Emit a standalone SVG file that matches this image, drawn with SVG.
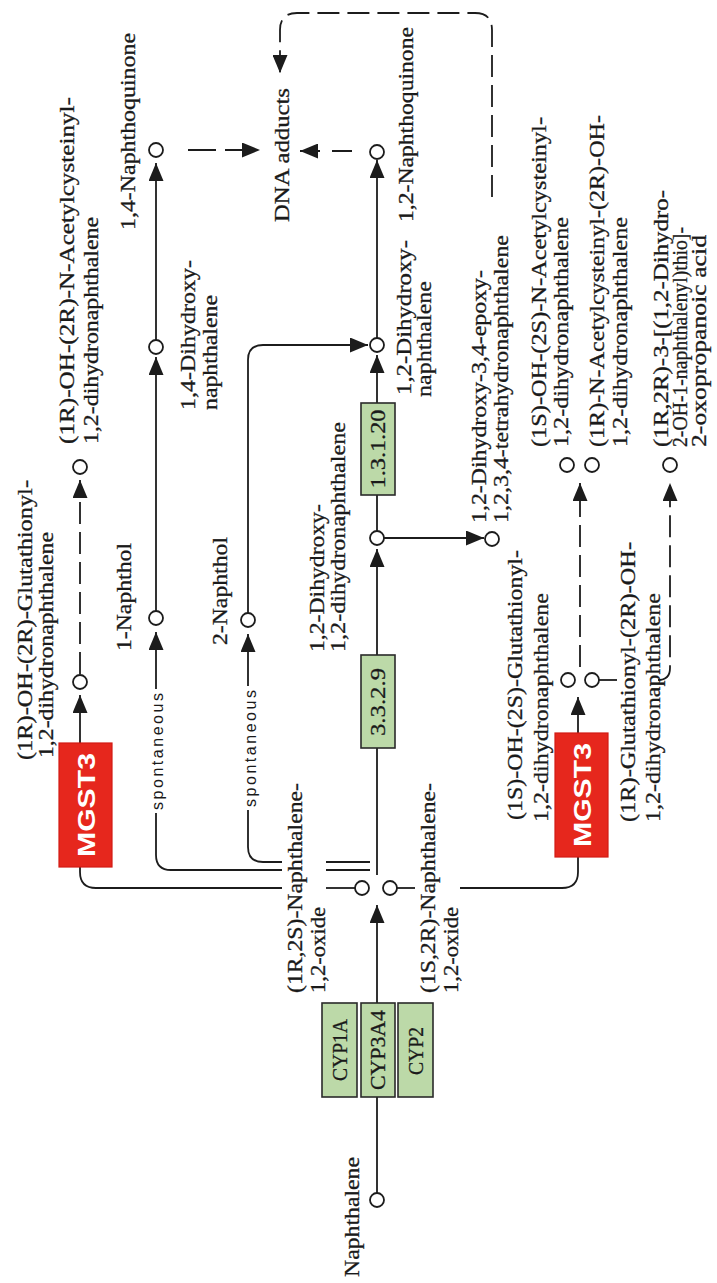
<svg xmlns="http://www.w3.org/2000/svg" width="717" height="1283" viewBox="0 0 717 1283">
<style>
  .ln{fill:none;stroke:#1c1c1c;stroke-width:1.8}
  .ds{stroke-dasharray:22 8}
  .cpd{fill:#fff;stroke:#1c1c1c;stroke-width:1.8}
  .enz{fill:#bcd9a8;stroke:#2a2a2a;stroke-width:1.6}
  .hit{fill:#e6271d;stroke:#d21c14;stroke-width:1.2}
  .t{font-family:"Liberation Serif","Times New Roman",serif;font-size:21px;fill:#1a1a1a;stroke:#1a1a1a;stroke-width:0.3;dominant-baseline:central}
  .et{text-anchor:middle}
  .ht{font-family:"Liberation Sans",Arial,sans-serif;font-weight:bold;font-size:24px;fill:#fff;text-anchor:middle;dominant-baseline:central}
  .sp{font-family:"Liberation Sans",Arial,sans-serif;font-size:16px;fill:#1a1a1a;dominant-baseline:central}
</style>
<defs>
  <marker id="ah" markerUnits="userSpaceOnUse" markerWidth="18" markerHeight="15" refX="18" refY="7.5" orient="auto">
    <path d="M0,0 L18,7.5 L0,15 z" fill="#1c1c1c"/>
  </marker>
</defs>
<rect width="717" height="1283" fill="#fff"/>

<!-- reactions -->
<g id="connectors">
  <!-- naphthalene to the epoxides -->
  <path class="ln" d="M377 1193 V905" marker-end="url(#ah)"/>
  <!-- epoxide hydrolase chain -->
  <path class="ln" d="M377 875 V549" marker-end="url(#ah)"/>
  <path class="ln" d="M377 531 V355" marker-end="url(#ah)"/>
  <path class="ln" d="M377 338 V160" marker-end="url(#ah)"/>
  <path class="ln" d="M384 538 H484" marker-end="url(#ah)"/>
  <!-- quinones to DNA adducts -->
  <path class="ln" d="M352 151 H300" style="stroke-dasharray:20 12" marker-end="url(#ah)"/>
  <path class="ln" d="M188 150 H260" style="stroke-dasharray:28 9" marker-end="url(#ah)"/>
  <path class="ln ds" d="M492 197 V30 Q492 13 475 13 H297 Q280 13 280 30 V73" marker-end="url(#ah)"/>
  <!-- 1-naphthol branch -->
  <path class="ln" d="M370 870 H326"/>
  <path class="ln" d="M282 870 H171 Q156 870 156 855 V632" marker-end="url(#ah)"/>
  <path class="ln" d="M156 611 V357" marker-end="url(#ah)"/>
  <path class="ln" d="M156 340 V163" marker-end="url(#ah)"/>
  <!-- 2-naphthol branch -->
  <path class="ln" d="M370 862 H326"/>
  <path class="ln" d="M282 862 H263 Q248 862 248 847 V634" marker-end="url(#ah)"/>
  <path class="ln" d="M248 613 V360 Q248 345 263 345 H368" marker-end="url(#ah)"/>
  <!-- glutathione conjugation, (1R,2S) epoxide -->
  <path class="ln" d="M355 888 H326"/>
  <path class="ln" d="M282 888 H96 Q80 888 80 872 V866"/>
  <path class="ln" d="M80 743 V695" marker-end="url(#ah)"/>
  <path class="ln ds" d="M80 674 V480" marker-end="url(#ah)"/>
  <!-- glutathione conjugation, (1S,2R) epoxide -->
  <path class="ln" d="M397 888 H415"/>
  <path class="ln" d="M460 888 H562 Q578 888 578 872 V857"/>
  <path class="ln" d="M578 733 V697" marker-end="url(#ah)"/>
  <path class="ln ds" d="M580 667 V483" marker-end="url(#ah)"/>
  <path class="ln" d="M599 680 H617"/>
  <path class="ln ds" d="M658 680 Q670 680 670 668 V483" marker-end="url(#ah)"/>
  <!-- non-enzymatic step labels -->
  <rect x="147" y="689" width="20" height="124" fill="#fff"/>
  <text class="sp" transform="translate(157,810) rotate(-90)" textLength="117" lengthAdjust="spacing">spontaneous</text>
  <rect x="240" y="686" width="20" height="124" fill="#fff"/>
  <text class="sp" transform="translate(250,807) rotate(-90)" textLength="117" lengthAdjust="spacing">spontaneous</text>
</g>

<!-- enzymes -->
<g id="cyp1a"><rect class="enz" x="322" y="1003" width="35" height="94"/><text class="t et" transform="translate(340,1050) rotate(-90)" textLength="62" lengthAdjust="spacingAndGlyphs">CYP1A</text></g>
<g id="cyp3a4"><rect class="enz" x="361" y="1003" width="34" height="94"/><text class="t et" transform="translate(378,1050) rotate(-90)" textLength="80" lengthAdjust="spacingAndGlyphs">CYP3A4</text></g>
<g id="cyp2"><rect class="enz" x="398" y="1003" width="35" height="94"/><text class="t et" transform="translate(416,1051) rotate(-90)" textLength="48" lengthAdjust="spacingAndGlyphs">CYP2</text></g>
<g id="ec3.3.2.9"><rect class="enz" x="361" y="655" width="34" height="93"/><text class="t et" transform="translate(378,702) rotate(-90)" textLength="68" lengthAdjust="spacingAndGlyphs">3.3.2.9</text></g>
<g id="ec1.3.1.20"><rect class="enz" x="361" y="403" width="34" height="92"/><text class="t et" transform="translate(378,449) rotate(-90)" textLength="79" lengthAdjust="spacingAndGlyphs">1.3.1.20</text></g>
<g id="mgst3-a"><rect class="hit" x="59" y="743" width="53" height="124"/><text class="ht" transform="translate(86,805) rotate(-90)" textLength="104" lengthAdjust="spacingAndGlyphs">MGST3</text></g>
<g id="mgst3-b"><rect class="hit" x="555" y="733" width="53" height="124"/><text class="ht" transform="translate(582,795) rotate(-90)" textLength="104" lengthAdjust="spacingAndGlyphs">MGST3</text></g>

<!-- compounds -->
<g id="naphthalene"><circle class="cpd" cx="377" cy="1200" r="7"/>
  <text class="t" transform="translate(352,1277) rotate(-90)" textLength="120" lengthAdjust="spacingAndGlyphs">Naphthalene</text></g>
<g id="naphthalene-1R2S-oxide"><circle class="cpd" cx="362" cy="888" r="7"/>
  <text class="t" transform="translate(295,993) rotate(-90)" textLength="210" lengthAdjust="spacingAndGlyphs">(1R,2S)-Naphthalene-</text>
  <text class="t" transform="translate(318,993) rotate(-90)" textLength="86" lengthAdjust="spacingAndGlyphs">1,2-oxide</text></g>
<g id="naphthalene-1S2R-oxide"><circle class="cpd" cx="390" cy="888" r="7"/>
  <text class="t" transform="translate(428,993) rotate(-90)" textLength="210" lengthAdjust="spacingAndGlyphs">(1S,2R)-Naphthalene-</text>
  <text class="t" transform="translate(451,993) rotate(-90)" textLength="86" lengthAdjust="spacingAndGlyphs">1,2-oxide</text></g>
<g id="gsh-1R2R"><circle class="cpd" cx="80" cy="682" r="7"/>
  <text class="t" transform="translate(25,760) rotate(-90)" textLength="280" lengthAdjust="spacingAndGlyphs">(1R)-OH-(2R)-Glutathionyl-</text>
  <text class="t" transform="translate(46,758) rotate(-90)" textLength="226" lengthAdjust="spacingAndGlyphs">1,2-dihydronaphthalene</text></g>
<g id="nac-1R2R"><circle class="cpd" cx="80" cy="467" r="7"/>
  <text class="t" transform="translate(67,444) rotate(-90)" textLength="347" lengthAdjust="spacingAndGlyphs">(1R)-OH-(2R)-N-Acetylcysteinyl-</text>
  <text class="t" transform="translate(91,444) rotate(-90)" textLength="227" lengthAdjust="spacingAndGlyphs">1,2-dihydronaphthalene</text></g>
<g id="naphthol-1"><circle class="cpd" cx="156" cy="618" r="7"/>
  <text class="t" transform="translate(124,651) rotate(-90)" textLength="108" lengthAdjust="spacingAndGlyphs">1-Naphthol</text></g>
<g id="naphthol-2"><circle class="cpd" cx="248" cy="620" r="7"/>
  <text class="t" transform="translate(220,645) rotate(-90)" textLength="108" lengthAdjust="spacingAndGlyphs">2-Naphthol</text></g>
<g id="dihydroxynaphthalene-14"><circle class="cpd" cx="156" cy="347" r="7"/>
  <text class="t" transform="translate(188,410) rotate(-90)" textLength="150" lengthAdjust="spacingAndGlyphs">1,4-Dihydroxy-</text>
  <text class="t" transform="translate(210,410) rotate(-90)" textLength="115" lengthAdjust="spacingAndGlyphs">naphthalene</text></g>
<g id="naphthoquinone-14"><circle class="cpd" cx="156" cy="150" r="7"/>
  <text class="t" transform="translate(128,230) rotate(-90)" textLength="197" lengthAdjust="spacingAndGlyphs">1,4-Naphthoquinone</text></g>
<g id="dna-adducts">
  <text class="t" transform="translate(282,222) rotate(-90)" textLength="134" lengthAdjust="spacingAndGlyphs">DNA adducts</text></g>
<g id="dihydrodiol"><circle class="cpd" cx="377" cy="538" r="7"/>
  <text class="t" transform="translate(317,652) rotate(-90)" textLength="148" lengthAdjust="spacingAndGlyphs">1,2-Dihydroxy-</text>
  <text class="t" transform="translate(338,652) rotate(-90)" textLength="230" lengthAdjust="spacingAndGlyphs">1,2-dihydronaphthalene</text></g>
<g id="dihydroxynaphthalene-12"><circle class="cpd" cx="377" cy="345" r="7"/>
  <text class="t" transform="translate(404,395) rotate(-90)" textLength="155" lengthAdjust="spacingAndGlyphs">1,2-Dihydroxy-</text>
  <text class="t" transform="translate(424,397) rotate(-90)" textLength="116" lengthAdjust="spacingAndGlyphs">naphthalene</text></g>
<g id="naphthoquinone-12"><circle class="cpd" cx="377" cy="152" r="7"/>
  <text class="t" transform="translate(406,222) rotate(-90)" textLength="195" lengthAdjust="spacingAndGlyphs">1,2-Naphthoquinone</text></g>
<g id="diol-epoxide"><circle class="cpd" cx="492" cy="539" r="7"/>
  <text class="t" transform="translate(479,523) rotate(-90)" textLength="253" lengthAdjust="spacingAndGlyphs">1,2-Dihydroxy-3,4-epoxy-</text>
  <text class="t" transform="translate(501,523) rotate(-90)" textLength="288" lengthAdjust="spacingAndGlyphs">1,2,3,4-tetrahydronaphthalene</text></g>
<g id="gsh-1S2S"><circle class="cpd" cx="568" cy="680" r="7"/>
  <text class="t" transform="translate(515,820) rotate(-90)" textLength="270" lengthAdjust="spacingAndGlyphs">(1S)-OH-(2S)-Glutathionyl-</text>
  <text class="t" transform="translate(541,822) rotate(-90)" textLength="229" lengthAdjust="spacingAndGlyphs">1,2-dihydronaphthalene</text></g>
<g id="gsh-1R2R-b"><circle class="cpd" cx="592" cy="680" r="7"/>
  <text class="t" transform="translate(628,822) rotate(-90)" textLength="280" lengthAdjust="spacingAndGlyphs">(1R)-Glutathionyl-(2R)-OH-</text>
  <text class="t" transform="translate(653,822) rotate(-90)" textLength="229" lengthAdjust="spacingAndGlyphs">1,2-dihydronaphthalene</text></g>
<g id="nac-1S2S"><circle class="cpd" cx="567" cy="465" r="7"/>
  <text class="t" transform="translate(539,447) rotate(-90)" textLength="330" lengthAdjust="spacingAndGlyphs">(1S)-OH-(2S)-N-Acetylcysteinyl-</text>
  <text class="t" transform="translate(561,447) rotate(-90)" textLength="230" lengthAdjust="spacingAndGlyphs">1,2-dihydronaphthalene</text></g>
<g id="nac-1R2R-b"><circle class="cpd" cx="592" cy="465" r="7"/>
  <text class="t" transform="translate(597,447) rotate(-90)" textLength="332" lengthAdjust="spacingAndGlyphs">(1R)-N-Acetylcysteinyl-(2R)-OH-</text>
  <text class="t" transform="translate(620,447) rotate(-90)" textLength="230" lengthAdjust="spacingAndGlyphs">1,2-dihydronaphthalene</text></g>
<g id="oxopropanoic-acid"><circle class="cpd" cx="670" cy="465" r="7"/>
  <text class="t" transform="translate(661,447) rotate(-90)" textLength="257" lengthAdjust="spacingAndGlyphs">(1R,2R)-3-[(1,2-Dihydro-</text>
  <text class="t" transform="translate(680,447) rotate(-90)" textLength="220" lengthAdjust="spacingAndGlyphs">2-OH-1-naphthalenyl)thio]-</text>
  <text class="t" transform="translate(699,447) rotate(-90)" textLength="212" lengthAdjust="spacingAndGlyphs">2-oxopropanoic acid</text></g>
</svg>
